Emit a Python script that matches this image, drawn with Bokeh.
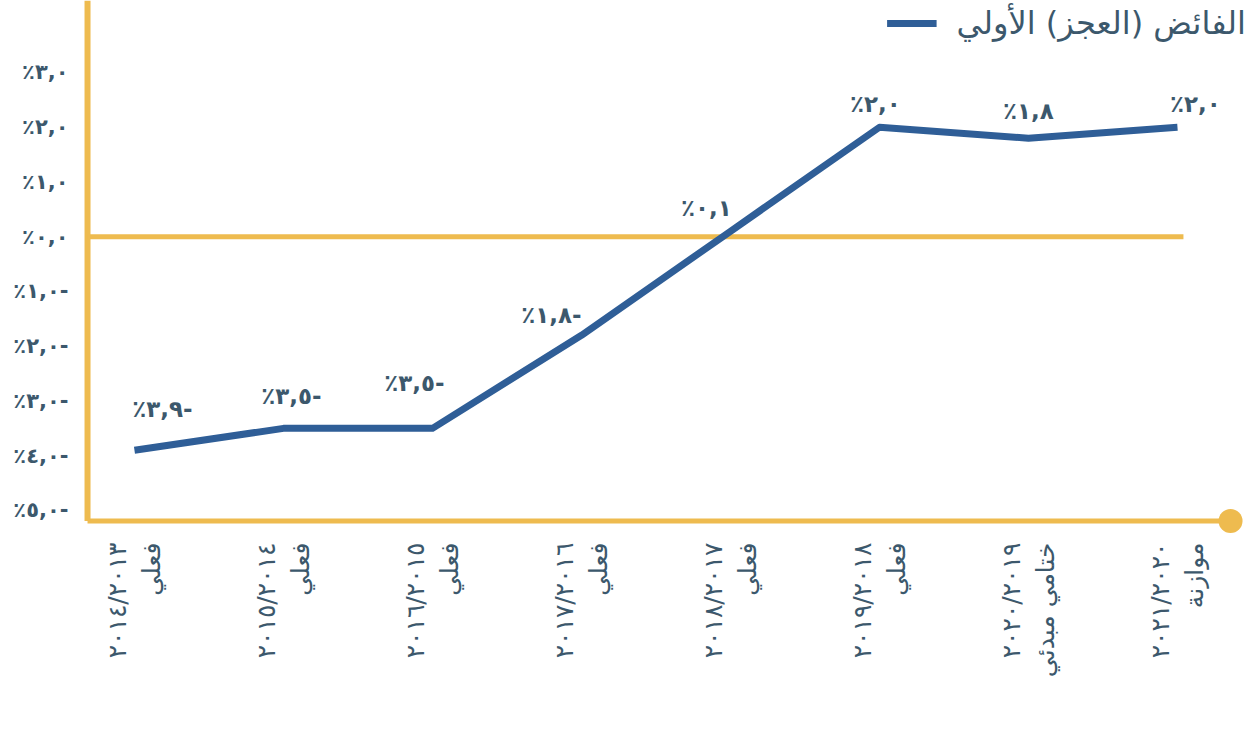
import math
from bokeh.plotting import figure
from bokeh.models import Range1d, FixedTicker, ColumnDataSource, LabelSet, Legend, LegendItem
from bokeh.core.properties import value
from bokeh.embed import file_html
from bokeh.resources import INLINE

# ---------------- data ----------------
years = ["٢٠١٤/٢٠١٣", "٢٠١٥/٢٠١٤", "٢٠١٦/٢٠١٥", "٢٠١٧/٢٠١٦",
         "٢٠١٨/٢٠١٧", "٢٠١٩/٢٠١٨", "٢٠٢٠/٢٠١٩", "٢٠٢١/٢٠٢٠"]
kinds = ["فعلي", "فعلي", "فعلي", "فعلي", "فعلي", "فعلي", "ختامي مبدئي", "موازنة"]
balance = [-3.9, -3.5, -3.5, -1.8, 0.1, 2.0, 1.8, 2.0]
y_ticks = [-5, -4, -3, -2, -1, 0, 1, 2, 3]
series_name = "الفائض (العجز) الأولي"

# label placement (pixels, relative to each point)
lab_dx = [28, 8, -18, -30, -24, -4, 0, 18]
lab_dy = [41, 32, 45, 20, 23, 23, 27, 23]

YELLOW = "#EEBB4F"
BLUE = "#2F5E97"
TEXT = "#3C586C"
FONT = "DejaVu Sans"

AR_DIGITS = str.maketrans("0123456789", "٠١٢٣٤٥٦٧٨٩")
LRO, PDF = "\u202D", "\u202C"


def pct(v):
    s = ("%.1f" % abs(v)).translate(AR_DIGITS).replace(".", ",")
    s = "٪" + s + ("-" if v < 0 else "")
    return LRO + s + PDF


xs = list(range(len(years)))

# ranges (screen calibration)
x_lo, x_hi = -0.389, 7.49
y_lo, y_hi = -5.548, 4.315
x_axis_pos = -0.315
y_base = -5.192
x_zero_end = 7.04
x_dot = 7.356

p = figure(width=1250, height=738, output_backend="svg", toolbar_location=None,
           x_range=Range1d(x_lo, x_hi), y_range=Range1d(y_lo, y_hi),
           min_border_left=76, min_border_right=0, min_border_top=0,
           min_border_bottom=198)
p.outline_line_color = None
p.grid.visible = False
p.background_fill_color = "white"
p.border_fill_color = "white"

# y axis
p.yaxis.ticker = FixedTicker(ticks=y_ticks)
p.yaxis.major_label_overrides = {t: pct(t) for t in y_ticks}
p.yaxis.axis_line_color = None
p.yaxis.major_tick_line_color = None
p.yaxis.minor_tick_line_color = None
p.yaxis.major_tick_out = 0
p.yaxis.major_tick_in = 0
p.yaxis.major_label_standoff = 8
p.yaxis.major_label_text_font = FONT
p.yaxis.major_label_text_font_size = "21px"
p.yaxis.major_label_text_font_style = "bold"
p.yaxis.major_label_text_color = TEXT

# x axis
p.xaxis.ticker = FixedTicker(ticks=xs)
p.xaxis.major_label_overrides = {i: LRO + years[i] + PDF + "\n" + kinds[i] for i in xs}
p.xaxis.major_label_orientation = math.pi / 2
p.xaxis.axis_line_color = None
p.xaxis.major_tick_line_color = None
p.xaxis.minor_tick_line_color = None
p.xaxis.major_tick_out = 0
p.xaxis.major_tick_in = 0
p.xaxis.major_label_standoff = 2
p.xaxis.major_label_text_font = FONT
p.xaxis.major_label_text_font_size = "25px"
p.xaxis.major_label_text_color = TEXT

# axis lines, zero line and end dot
p.segment(x0=[x_axis_pos], y0=[y_base], x1=[x_dot], y1=[y_base], line_color=YELLOW, line_width=5)
p.segment(x0=[x_axis_pos], y0=[y_base], x1=[x_axis_pos], y1=[y_hi], line_color=YELLOW, line_width=6)
p.segment(x0=[x_axis_pos], y0=[0], x1=[x_zero_end], y1=[0], line_color=YELLOW, line_width=5)
p.scatter(x=[x_dot], y=[y_base], size=24, fill_color=YELLOW, line_color=None)

# series
src = ColumnDataSource(dict(x=xs, y=balance, t=[pct(v) for v in balance], dx=lab_dx, dy=lab_dy))
r = p.line("x", "y", source=src, line_width=7, line_color=BLUE, line_join="round")

labels = LabelSet(x="x", y="y", text="t", source=src, x_offset="dx", y_offset="dy",
                  text_align="center", text_baseline="middle",
                  text_font=value(FONT), text_font_size="23px", text_font_style="bold",
                  text_color=TEXT)
p.add_layout(labels)

legend = Legend(items=[LegendItem(label=series_name, renderers=[r])], location="top_right")
legend.border_line_color = None
legend.background_fill_alpha = 0
legend.margin = 4
legend.padding = 8
legend.glyph_width = 50
legend.label_standoff = 20
legend.label_text_font = FONT
legend.label_text_font_size = "32px"
legend.label_text_color = TEXT
p.add_layout(legend)

open("out.html", "w").write(file_html(p, INLINE))
